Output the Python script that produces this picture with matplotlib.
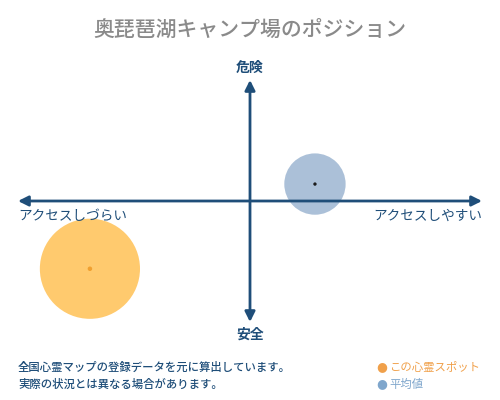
import matplotlib
matplotlib.use("Agg")
import matplotlib.pyplot as plt

plt.rcParams['font.family'] = ['Noto Sans CJK JP', 'DejaVu Sans']

# data
title = "奥琵琶湖キャンプ場のポジション"
labels = ["この心霊スポット", "平均値"]
x_vals = [-0.69, 0.28]     # access: -1 hard ... +1 easy
y_vals = [-0.56, 0.14]     # danger: -1 safe ... +1 dangerous
bubble = [5200, 1950]
axis_top, axis_bottom = "危険", "安全"
axis_left, axis_right = "アクセスしづらい", "アクセスしやすい"
notes = ["全国心霊マップの登録データを元に算出しています。",
         "実際の状況とは異なる場合があります。"]

fill_cols = ["#FFC766", "#A7BDD6"]
dot_cols = ["#F0A030", "#1a1a1a"]
leg_cols = ["#F0A04A", "#7FA6CC"]
navy = "#1F4E79"

fig = plt.figure(figsize=(5, 4), dpi=100)
ax = fig.add_axes([18 / 500, 78 / 400, 464 / 500, 242 / 400])
ax.set_xlim(-1, 1)
ax.set_ylim(-1, 1)
ax.axis("off")

ax.scatter(x_vals, y_vals, s=bubble, c=fill_cols, alpha=0.95, linewidths=0, zorder=1)
ax.scatter(x_vals, y_vals, s=[5, 2], c=dot_cols, zorder=4)

arrow = dict(arrowstyle="<|-|>,head_length=0.6,head_width=0.3", color=navy, lw=2,
             mutation_scale=10, shrinkA=0, shrinkB=0)
ax.annotate("", xy=(-1, 0), xytext=(1, 0), arrowprops=arrow, zorder=3)
ax.annotate("", xy=(0, -1), xytext=(0, 1), arrowprops=arrow, zorder=3)

fig.text(0.5, 1 - 30 / 400, title, ha="center", va="center", fontsize=15,
         color="#8a8a8a", fontweight="medium")
fig.text(0.5, 1 - 68 / 400, axis_top, ha="center", va="center", fontsize=10,
         color=navy, fontweight="bold")
fig.text(0.5, 1 - 335 / 400, axis_bottom, ha="center", va="center", fontsize=10,
         color=navy, fontweight="bold")
fig.text(18 / 500, 1 - 216 / 400, axis_left, ha="left", va="center", fontsize=9.8,
         color=navy)
fig.text(482 / 500, 1 - 216 / 400, axis_right, ha="right", va="center", fontsize=9.8,
         color=navy)

for i, line in enumerate(notes):
    fig.text(18 / 500, 1 - (367 + 17 * i) / 400, line, ha="left", va="center",
             fontsize=8.2, color=navy, fontweight="medium")

for i, lab in enumerate(labels):
    yy = 1 - (367 + 17 * i) / 400
    fig.text(382 / 500, yy, "●", ha="center", va="center", fontsize=9, color=leg_cols[i],
             family="DejaVu Sans")
    fig.text(389 / 500, yy, lab, ha="left", va="center", fontsize=8.2, color=leg_cols[i])

fig.savefig("out.png", dpi=100)
